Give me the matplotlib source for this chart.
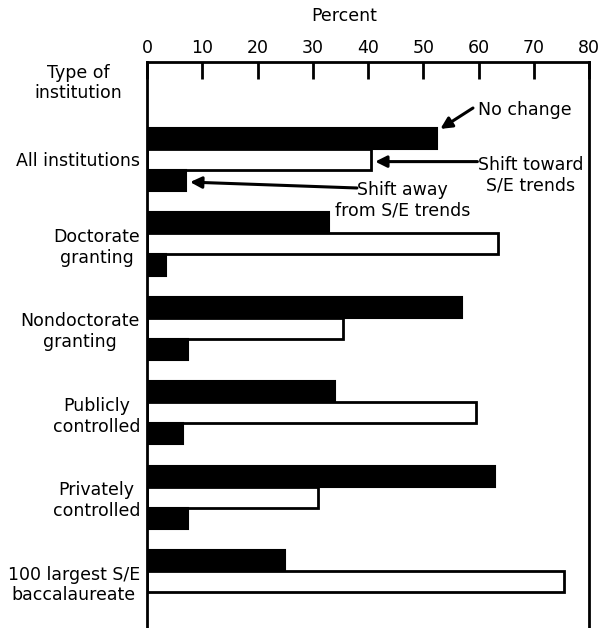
import numpy as np
import matplotlib.pyplot as plt

plt.rcParams['font.family'] = ['DejaVu Sans']

# data (percent)
categories = ['All institutions', 'Doctorate\ngranting', 'Nondoctorate\ngranting',
              'Publicly\ncontrolled', 'Privately\ncontrolled', '100 largest S/E\nbaccalaureate']
no_change = [52.5, 33, 57, 34, 63, 25]
shift_toward = [40.5, 63.5, 35.5, 59.5, 31, 75.5]
shift_away = [7, 3.5, 7.5, 6.5, 7.5, 0]
ticks = [0, 10, 20, 30, 40, 50, 60, 70, 80]

fs = 12.5
fig = plt.figure(figsize=(6.08, 6.28), dpi=100)
ax = fig.add_axes([147/608, 0.0, 442/608, 1 - 62/628])

y = np.arange(len(categories)) * 4.0
h = 1.0
ax.barh(y - h, no_change, height=h, color='black', edgecolor='black', linewidth=1.5)
ax.barh(y, shift_toward, height=h, color='white', edgecolor='black', linewidth=2)
has_away = np.array(shift_away) > 0
ax.barh(y[has_away] + h, np.array(shift_away)[has_away], height=h,
        color='black', edgecolor='black', linewidth=1.5)

ax.set_xlim(0, 80)
ax.set_ylim(22.2, -4.62)

ax.xaxis.tick_top()
ax.set_xticks(ticks)
ax.set_xticklabels([str(t) for t in ticks], fontsize=fs)
ax.tick_params(axis='x', direction='in', length=12, width=2, pad=3.5)
fig.text(344/608, 1 - 16/628, 'Percent', ha='center', va='center', fontsize=fs)

ax.set_yticks(y)
ax.set_yticklabels(categories, fontsize=fs, multialignment='center')
ax.tick_params(axis='y', length=0, pad=5)

for s in ['top', 'left', 'right']:
    ax.spines[s].set_linewidth(2)
ax.spines['bottom'].set_visible(False)

fig.text(78/608, 1 - 83/628, 'Type of\ninstitution', ha='center', va='center',
         fontsize=fs, multialignment='center')

# call-outs
arrow = dict(arrowstyle='-|>', color='black', lw=2.2, mutation_scale=17, shrinkA=0, shrinkB=0)
ax.annotate('', xy=(no_change[0] + 0.6, y[0] - 1.45), xytext=(59.0, y[0] - 2.44), arrowprops=arrow)
ax.text(59.9, y[0] - 2.35, 'No change', ha='left', va='center', fontsize=fs)

ax.annotate('', xy=(shift_toward[0] + 0.8, y[0] + 0.1), xytext=(59.8, y[0] + 0.1), arrowprops=arrow)
ax.text(69.5, y[0] + 0.73, 'Shift toward\nS/E trends', ha='center', va='center',
        fontsize=fs, multialignment='center')

ax.annotate('', xy=(shift_away[0] + 0.8, y[0] + 1.07), xytext=(38.0, y[0] + 1.35), arrowprops=arrow)
ax.text(46.2, y[0] + 1.92, 'Shift away\nfrom S/E trends', ha='center', va='center',
        fontsize=fs, multialignment='center')

fig.savefig('out.png', dpi=100)
